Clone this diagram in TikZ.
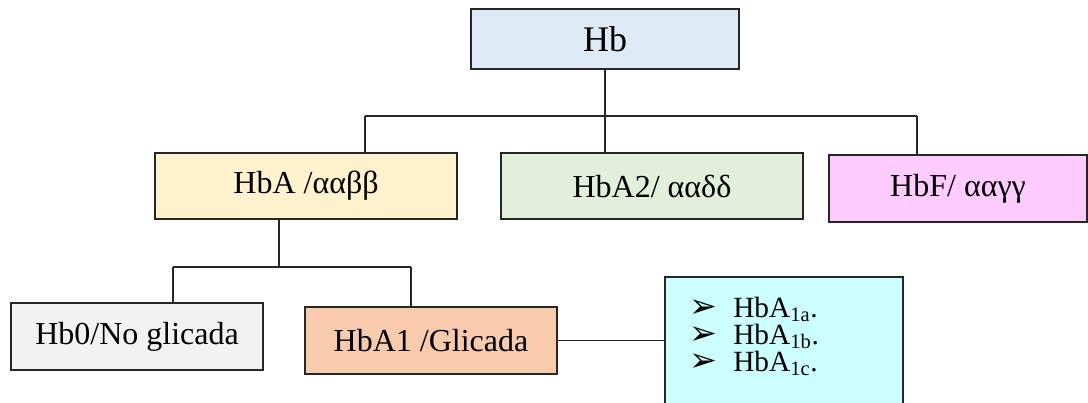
\documentclass[tikz,border=0pt]{standalone}
\usepackage{fontspec}
\setmainfont{Liberation Serif}
\newfontfamily\arrowfont{DejaVu Sans}
\definecolor{cHb}{HTML}{DEEBF7}
\definecolor{cHbA}{HTML}{FFF2CC}
\definecolor{cHbAtwo}{HTML}{E2EFDA}
\definecolor{cHbF}{HTML}{FFCCFF}
\definecolor{cHbO}{HTML}{F2F2F2}
\definecolor{cHbAone}{HTML}{F8CBAD}
\definecolor{cList}{HTML}{CCFFFF}
\tikzset{
  box/.style={draw=black!85, line width=0.9pt, inner sep=0pt, font=\fontsize{24}{28}\selectfont},
  conn/.style={draw=black!85, line width=0.8pt},
  item/.style={anchor=base west, inner sep=0pt, font=\fontsize{22}{20.25}\selectfont}
}
\newcommand{\bul}{\makebox[33pt][l]{\smash{\arrowfont\fontsize{25}{28}\selectfont ➢}}}
\begin{document}
\begin{tikzpicture}[x=0.75pt,y=-0.75pt]
\useasboundingbox (0,0) rectangle (1088,403);
\clip (0,0) rectangle (1088,403);
\fill[white] (0,0) rectangle (1088,403);
% nodes
\node[box, fill=cHb, minimum width=201pt, minimum height=45pt, font=\fontsize{27}{31}\selectfont] (hb) at (605,39) {Hb};
\node[box, fill=cHbA, minimum width=226.5pt, minimum height=49.5pt] (hba) at (306,186) {HbA /ααββ};
\node[box, fill=cHbAtwo, minimum width=226.5pt, minimum height=49.5pt] (hbatwo) at (652,186) {HbA2/ ααδδ};
\node[box, fill=cHbF, minimum width=193.5pt, minimum height=50.25pt] (hbf) at (958,188.5) {HbF/ ααγγ};
\node[box, fill=cHbO, minimum width=189pt, minimum height=50.25pt] (hbo) at (137,336.5) {Hb0/No glicada};
\node[box, fill=cHbAone, minimum width=189pt, minimum height=50.25pt] (hbaone) at (431,340.5) {HbA1 /Glicada};
\node[box, fill=cList, minimum width=178.5pt, minimum height=107.25pt] (list) at (784,348.5) {};
\node[item] (items) at (689,317) {\vtop{\baselineskip=20.25pt
  \hbox{\bul HbA\textsubscript{1a}.}
  \hbox{\bul HbA\textsubscript{1b}.}
  \hbox{\bul HbA\textsubscript{1c}.}}};
% junctions
\coordinate (j1) at (605,116);
\coordinate (ja) at (365,116);
\coordinate (jf) at (917,116);
\coordinate (kb) at (279,267);
\coordinate (k0) at (173,267);
\coordinate (k2) at (411,267);
% connectors
\draw[conn] (hb.south) -- (j1);
\draw[conn] (ja) -- (jf);
\draw[conn] (ja) -- (ja |- hba.north);
\draw[conn] (j1) -- (j1 |- hbatwo.north);
\draw[conn] (jf) -- (jf |- hbf.north);
\draw[conn] (kb |- hba.south) -- (kb);
\draw[conn] (k0) -- (k2);
\draw[conn] (k0) -- (k0 |- hbo.north);
\draw[conn] (k2) -- (k2 |- hbaone.north);
\draw[conn] (hbaone.east) -- (hbaone.east -| list.west);
\end{tikzpicture}
\end{document}
